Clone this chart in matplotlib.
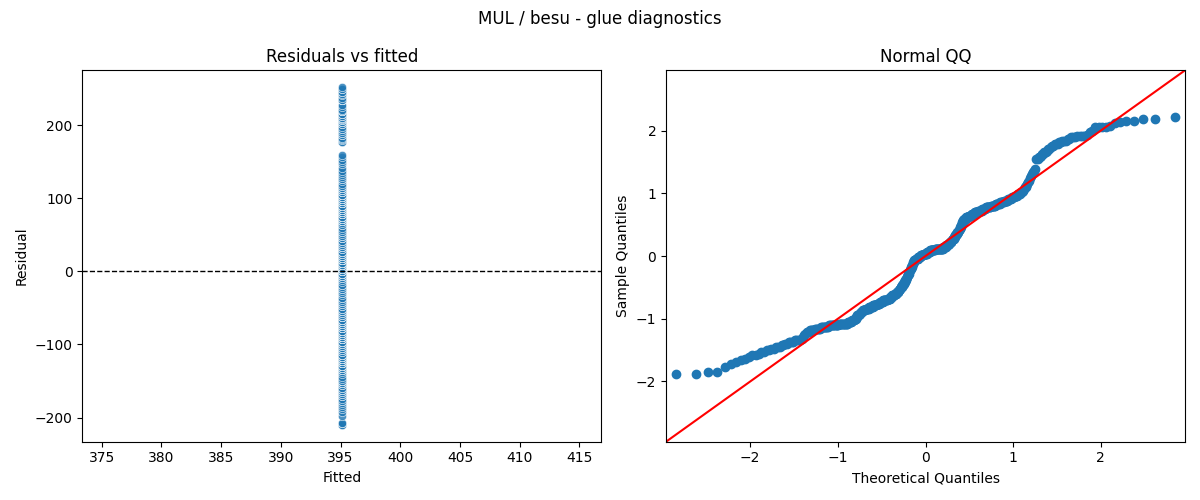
import matplotlib
matplotlib.use("Agg")
import matplotlib.pyplot as plt
import seaborn as sns
import numpy as np
from statistics import NormalDist

# ---- data ----
fitted_value = 395.1
residuals = [
    -210, -210, -207, -207,
    -198, -192, -189, -186, -183, -180,
    -177, -177, -174, -171,
    -171, -168, -168, -165, -165, -162,
    -162, -162, -159, -159, -156, -156, -153, -153,
    -153, -153, -150, -150, -150, -150, -150,
    -147, -144, -141, -138, -135,
    -135, -135, -132, -132, -132, -132, -129, -129, -129, -129,
    -129, -129, -126, -126, -126, -126, -126, -126, -126, -126, -126, -123, -123, -123, -123,
    -123, -123, -123, -123, -123, -123, -123, -123, -120, -120, -120, -120, -120, -120, -120, -120, -120,
    -120, -120, -120, -117, -117, -117, -117, -117, -117, -114, -114, -114,
    -114, -111, -111, -108, -108, -105, -105, -105, -102, -102, -99, -99, -99, -96,
    -96, -96, -96, -96, -93, -93, -93, -93, -93, -93, -90, -90, -90, -90, -90, -90, -90,
    -87, -87, -87, -87, -87, -87, -84, -84, -84, -84, -84, -84, -81, -81, -81, -81, -81, -81,
    -78, -78, -78, -78, -78, -78, -78, -78,
    -75, -75, -75, -75, -75, -72, -72, -72, -72, -69, -69, -69, -69, -69, -66, -66, -66, -66,
    -63, -63, -63, -63,
    -60, -60, -57, -57, -54, -54, -54, -51, -51, -48, -48, -45, -45, -42,
    -42, -39, -36, -36, -33, -30, -30, -27, -24, -24, -21,
    -18, -18, -15, -12, -9, -9, -6,
    -6, -6, -3, -3, -3, -3, -3, 0, 0, 0, 0, 0, 0, 3,
    3, 3, 3, 3, 3, 6, 6, 6, 6, 6, 6, 6, 9, 9, 9, 9, 9, 9, 12, 12, 12, 12,
    12, 12, 12, 12, 12, 12, 12, 15, 15, 15, 15, 15, 15, 15, 15, 15, 15, 15, 15, 15, 15, 15, 15,
    18, 18, 18, 18,
    18, 18, 21, 21, 21, 21, 24, 24, 24, 27, 27, 27, 27, 30,
    30, 33, 33, 33, 36, 36, 39, 39, 42, 42, 45, 45, 45, 48,
    48, 51, 54, 54, 57, 60, 63, 63, 66, 69,
    69, 69, 69, 72, 72, 72, 72, 72, 75, 75, 75, 75, 75, 78, 78, 78,
    78, 78, 78, 81, 81, 81, 81, 81, 81, 84, 84, 84, 84, 84, 84, 84, 87, 87, 87, 87, 87, 87, 90, 90,
    90, 90, 90, 90, 90, 90, 93, 93, 93, 93, 93, 93, 93, 96, 96, 96, 96, 96, 96, 96, 99,
    99, 99, 99, 99, 99, 102, 102, 102, 102, 102, 105, 105, 105, 105, 105, 108,
    108, 109, 109, 111, 111, 111, 114, 114, 114, 114, 117,
    117, 120, 123, 126, 127, 129, 132,
    135, 138, 142, 147,
    150, 153, 156, 159,
    177, 177, 180, 181, 183, 186, 186, 189,
    189, 192, 195, 195, 198, 201,
    201, 204, 204, 204, 207, 207, 209,
    210, 210, 213, 213, 216, 216,
    216, 219, 219, 219, 219, 221,
    225, 228, 234,
    234, 234, 234,
    237, 242, 243, 245,
    246, 249, 249, 252,
]

suptitle = "MUL / besu - glue diagnostics"
left_title = "Residuals vs fitted"
right_title = "Normal QQ"

# ---- derived ----
resid = np.array(residuals, dtype=float)
n = len(resid)
fitted = np.full(n, fitted_value)

z = np.sort((resid - resid.mean()) / resid.std())
nd = NormalDist()
theo = np.array([nd.inv_cdf(i / (n + 1)) for i in range(1, n + 1)])

fig, axes = plt.subplots(1, 2, figsize=(12, 5), dpi=100)

ax = axes[0]
sns.scatterplot(x=fitted, y=resid, ax=ax, alpha=0.8)
ax.axhline(0, color="black", linestyle="--", linewidth=1)
ax.set_title(left_title)
ax.set_xlabel("Fitted")
ax.set_ylabel("Residual")

ax = axes[1]
ax.plot(theo, z, "o", color="C0", markersize=6)
lim = 2.96
ax.plot([-lim, lim], [-lim, lim], color="r")
ax.set_xlim(-lim, lim)
ax.set_ylim(-lim, lim)
ax.set_title(right_title)
ax.set_xlabel("Theoretical Quantiles")
ax.set_ylabel("Sample Quantiles")

fig.suptitle(suptitle)
fig.tight_layout()
fig.savefig("out.png")
